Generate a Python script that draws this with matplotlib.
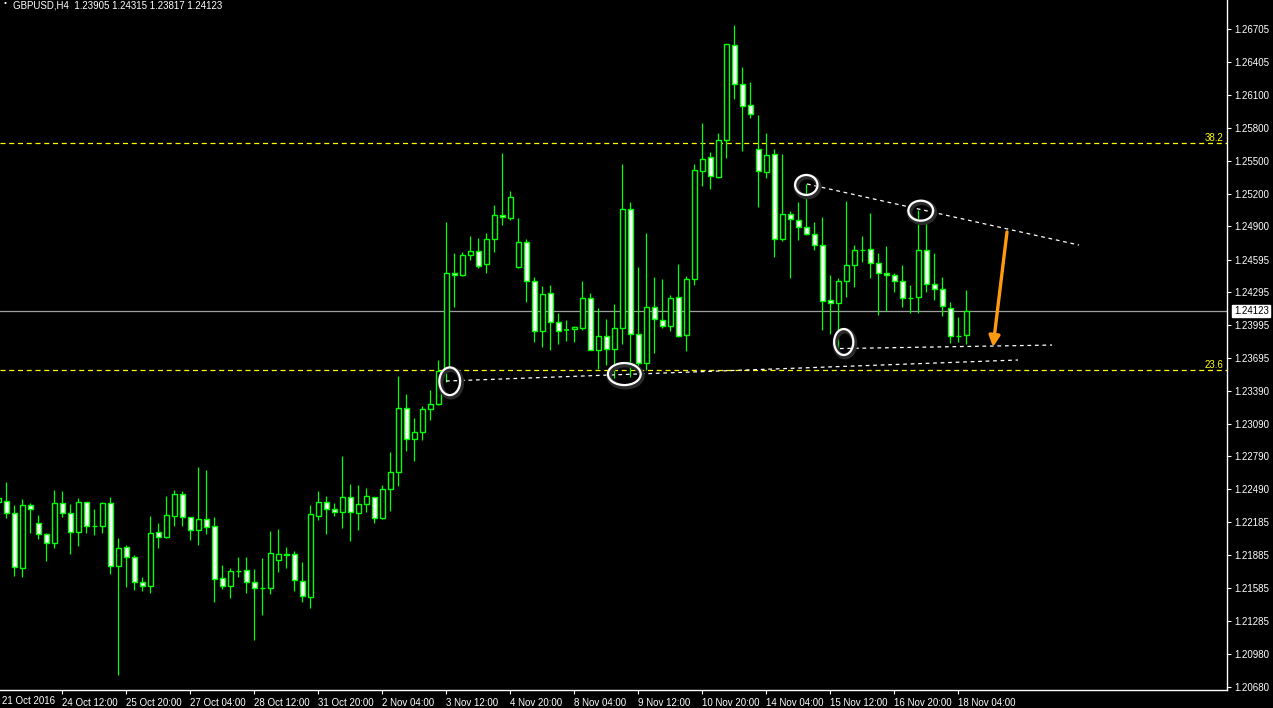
import matplotlib
matplotlib.use("Agg")
import matplotlib.pyplot as plt
from matplotlib.patches import Rectangle, Ellipse
from matplotlib.transforms import blended_transform_factory

plt.rcParams['font.family'] = ['Liberation Sans', 'DejaVu Sans']

# GBPUSD H4 candles, bar -1 is the one cut by the left edge
bar_index = list(range(-1, 121))

opens = [1.22372, 1.22381, 1.22268, 1.21764, 1.22341, 1.22176, 1.22075, 1.21993, 1.22360, 1.22268,
         1.22094, 1.22369, 1.22154, 1.22149, 1.22360, 1.21782, 1.21956, 1.21864, 1.21636, 1.21599,
         1.22094, 1.22053, 1.22246, 1.22445, 1.22231, 1.22112, 1.22213, 1.22149, 1.21672, 1.21599,
         1.21742, 1.21745, 1.21636, 1.21586, 1.21580, 1.21837, 1.21892, 1.21892, 1.21645, 1.21498,
         1.22246, 1.22369, 1.22305, 1.22283, 1.22415, 1.22274, 1.22357, 1.22415, 1.22228, 1.22488,
         1.22644, 1.23231, 1.22947, 1.23011, 1.23222, 1.23268, 1.23577, 1.24469, 1.24456, 1.24634,
         1.24671, 1.24551, 1.24786, 1.25001, 1.24976, 1.24524, 1.24753, 1.24396, 1.23942, 1.24286,
         1.24020, 1.23952, 1.23955, 1.23970, 1.24240, 1.23763, 1.23891, 1.23772, 1.23964, 1.25056,
         1.23909, 1.23644, 1.24157, 1.24038, 1.23988, 1.24249, 1.23900, 1.24414, 1.25410, 1.25533,
         1.25355, 1.25688, 1.26560, 1.26202, 1.26009, 1.25606, 1.25401, 1.25560, 1.24786, 1.25010,
         1.24960, 1.24891, 1.24826, 1.24726, 1.24221, 1.24194, 1.24396, 1.24542, 1.24683, 1.24689,
         1.24561, 1.24474, 1.24451, 1.24396, 1.24245, 1.24249, 1.24680, 1.24368, 1.24322, 1.24148,
         1.23894, 1.23905]
highs = [1.22427, 1.22555, 1.22344, 1.22399, 1.22360, 1.22253, 1.22087, 1.22482, 1.22473, 1.22353,
         1.22408, 1.22372, 1.22307, 1.22375, 1.22418, 1.22041, 1.21977, 1.21883, 1.21684, 1.22243,
         1.22176, 1.22427, 1.22482, 1.22473, 1.22234, 1.22693, 1.22665, 1.22234, 1.21794, 1.21766,
         1.21867, 1.21867, 1.21757, 1.21858, 1.22106, 1.22124, 1.21959, 1.21920, 1.21821, 1.22344,
         1.22473, 1.22424, 1.22363, 1.22793, 1.22537, 1.22528, 1.22500, 1.22418, 1.22528, 1.22830,
         1.23527, 1.23362, 1.23142, 1.23252, 1.23399, 1.23674, 1.24939, 1.24655, 1.24664, 1.24808,
         1.24790, 1.24836, 1.25095, 1.25572, 1.25224, 1.24973, 1.24783, 1.24438, 1.24355, 1.24362,
         1.24102, 1.24041, 1.23988, 1.24398, 1.24286, 1.24148, 1.24050, 1.24187, 1.25471, 1.25123,
         1.24527, 1.24838, 1.24435, 1.24417, 1.24270, 1.24551, 1.24444, 1.25471, 1.25847, 1.25581,
         1.25753, 1.26575, 1.26746, 1.26361, 1.26223, 1.25920, 1.25755, 1.25609, 1.25563, 1.25040,
         1.25123, 1.25285, 1.24939, 1.24985, 1.24451, 1.24423, 1.25132, 1.24728, 1.24811, 1.25022,
         1.24655, 1.24719, 1.24472, 1.24545, 1.24362, 1.25047, 1.24948, 1.24655, 1.24432, 1.24206,
         1.24068, 1.24315]
lows = [1.22353, 1.22228, 1.21696, 1.21687, 1.22090, 1.22032, 1.21833, 1.21952, 1.22237, 1.21897,
        1.21971, 1.22090, 1.22072, 1.22090, 1.21714, 1.20788, 1.21595, 1.21568, 1.21559, 1.21540,
        1.21952, 1.22044, 1.22154, 1.22154, 1.22026, 1.21980, 1.22081, 1.21457, 1.21577, 1.21494,
        1.21687, 1.21540, 1.21109, 1.21338, 1.21531, 1.21733, 1.21769, 1.21559, 1.21457, 1.21402,
        1.22209, 1.22081, 1.22246, 1.22136, 1.22014, 1.22115, 1.22283, 1.22182, 1.22213, 1.22292,
        1.22521, 1.22842, 1.22750, 1.22943, 1.23126, 1.23259, 1.23475, 1.24163, 1.24444, 1.24594,
        1.24520, 1.24474, 1.24667, 1.24909, 1.24960, 1.24520, 1.24208, 1.23842, 1.23796, 1.23766,
        1.23820, 1.23848, 1.23842, 1.23949, 1.23765, 1.23591, 1.23628, 1.23512, 1.23820, 1.23521,
        1.23582, 1.23582, 1.23741, 1.23970, 1.23942, 1.23885, 1.23756, 1.24362, 1.25272, 1.25245,
        1.25346, 1.25529, 1.26070, 1.25593, 1.25896, 1.25080, 1.25346, 1.24621, 1.24768, 1.24428,
        1.24777, 1.24820, 1.24685, 1.23952, 1.23915, 1.23777, 1.24249, 1.24346, 1.24575, 1.24423,
        1.24084, 1.24126, 1.24295, 1.24163, 1.24102, 1.24102, 1.24300, 1.24221, 1.24075, 1.23827,
        1.23836, 1.23817]
closes = [1.22408, 1.22268, 1.21773, 1.22341, 1.22305, 1.22075, 1.21993, 1.22360, 1.22268, 1.22094,
          1.22369, 1.22154, 1.22150, 1.22363, 1.21782, 1.21947, 1.21864, 1.21636, 1.21599, 1.22085,
          1.22048, 1.22250, 1.22445, 1.22231, 1.22112, 1.22213, 1.22140, 1.21663, 1.21599, 1.21736,
          1.21738, 1.21636, 1.21580, 1.21582, 1.21901, 1.21892, 1.21889, 1.21654, 1.21507, 1.22259,
          1.22369, 1.22305, 1.22283, 1.22415, 1.22283, 1.22351, 1.22424, 1.22228, 1.22488, 1.22644,
          1.23231, 1.22947, 1.23011, 1.23222, 1.23268, 1.23577, 1.24469, 1.24451, 1.24634, 1.24671,
          1.24539, 1.24781, 1.25001, 1.24982, 1.25166, 1.24753, 1.24396, 1.23942, 1.24276, 1.24020,
          1.23942, 1.23950, 1.23974, 1.24240, 1.23768, 1.23891, 1.23777, 1.23964, 1.25056, 1.23909,
          1.23644, 1.24157, 1.24047, 1.23988, 1.24240, 1.23891, 1.24414, 1.25413, 1.25514, 1.25358,
          1.25688, 1.26569, 1.26202, 1.26000, 1.25927, 1.25404, 1.25551, 1.24786, 1.25010, 1.24964,
          1.24891, 1.24826, 1.24726, 1.24212, 1.24194, 1.24396, 1.24542, 1.24680, 1.24680, 1.24561,
          1.24469, 1.24451, 1.24396, 1.24240, 1.24242, 1.24680, 1.24371, 1.24322, 1.24166, 1.23891,
          1.23891, 1.24123]

price_ticks = [1.26705, 1.26405, 1.26100, 1.25800, 1.25500, 1.25200, 1.24900, 1.24595, 1.24295,
               1.23995, 1.23695, 1.23390, 1.23090, 1.22790, 1.22490, 1.22185, 1.21885, 1.21585,
               1.21285, 1.20980, 1.20680]
time_tick_bars = [7, 15, 23, 31, 39, 47, 55, 63, 71, 79, 87, 95, 103, 111, 119]
time_tick_labels = ['24 Oct 12:00', '25 Oct 20:00', '27 Oct 04:00', '28 Oct 12:00', '31 Oct 20:00',
                    '2 Nov 04:00', '3 Nov 12:00', '4 Nov 20:00', '8 Nov 04:00', '9 Nov 12:00',
                    '10 Nov 20:00', '14 Nov 04:00', '15 Nov 12:00', '16 Nov 20:00', '18 Nov 04:00']

fib_levels = [1.25664, 1.23582]
fib_names = ['38.2', '23.6']
last_price = 1.24123

# hand drawn marks on the chart: (bar, price) pairs
trend_lines = [((54.96, 1.23481), (126.46, 1.23674)),
               ((100.09, 1.25288), (134.09, 1.24728)),
               ((104.21, 1.23779), (130.71, 1.23811))]
circles = [(55.43, 1.23479, 2.6, 0.00254), (77.25, 1.23545, 4.1, 0.00202),
           (100.0, 1.25279, 2.8, 0.00183), (114.31, 1.25043, 3.1, 0.00183),
           (104.68, 1.23839, 2.4, 0.00238)]
arrow_from = (125.09, 1.24848)
arrow_to = (123.34, 1.23793)

LIME = '#00FF00'

fig = plt.figure(figsize=(12.73, 7.08), dpi=100, facecolor='black')
ax = fig.add_axes([0, 18 / 708, 1227 / 1273, 690 / 708])
ax.set_facecolor('black')

for x, o, h, l, c in zip(bar_index, opens, highs, lows, closes):
    ax.vlines(x, l, h, color=LIME, lw=0.9, zorder=2)
    if abs(c - o) < 0.00002:
        ax.hlines(o, x - 0.3, x + 0.3, color=LIME, lw=1.2, zorder=3)
    else:
        face = 'white' if c < o else 'black'
        ax.add_patch(Rectangle((x - 0.28, min(o, c)), 0.56, abs(c - o), facecolor=face,
                               edgecolor=LIME, lw=1.0, zorder=3))

for lvl, name in zip(fib_levels, fib_names):
    ax.axhline(lvl, color='#FFFF00', lw=0.9, ls=(0, (4, 3)), zorder=1)
    ax.text(0.997, lvl, name, color='#FFFF00', fontsize=7, ha='right', va='bottom',
            transform=blended_transform_factory(ax.transAxes, ax.transData))

ax.axhline(last_price, color='#A0A0A0', lw=0.9, zorder=1)

for (x0, y0), (x1, y1) in trend_lines:
    ax.plot([x0, x1], [y0, y1], color='white', lw=0.9, ls=(0, (3, 3)), zorder=4)

for cx, cy, w, h in circles:
    ax.add_patch(Ellipse((cx + 0.15, cy - 0.00015), w, h, fill=False, edgecolor='#2a2a2a', lw=4, zorder=4))
    ax.add_patch(Ellipse((cx, cy), w, h, fill=False, edgecolor='white', lw=1.6, zorder=5))

ax.annotate('', xy=arrow_to, xytext=arrow_from,
            arrowprops=dict(arrowstyle='-|>', color='#FF9A10', lw=2.4, mutation_scale=16,
                            shrinkA=0, shrinkB=0), zorder=6)

ax.set_xlim(-0.7875, 152.59)
ax.set_ylim(1.20648, 1.26975)

for side in ['top', 'left']:
    ax.spines[side].set_visible(False)
for side in ['right', 'bottom']:
    ax.spines[side].set_color('white')
    ax.spines[side].set_linewidth(1)

ax.yaxis.tick_right()
ax.set_yticks(price_ticks)
ax.set_yticklabels([f'{p:.5f}' for p in price_ticks])
ax.set_xticks(time_tick_bars)
ax.set_xticklabels(time_tick_labels)
for lbl in ax.get_xticklabels():
    lbl.set_ha('left')
ax.tick_params(colors='white', labelcolor='white', labelsize=7, length=3, width=0.8, pad=2)
ax.tick_params(axis='x', pad=3)

ax.text(0.002, -0.008, '21 Oct 2016', color='white', fontsize=7, ha='left', va='top',
        transform=ax.transAxes)

ax.annotate(f'{last_price:.5f}', xy=(1.0, last_price), xycoords=('axes fraction', 'data'),
            xytext=(5, 0), textcoords='offset points', color='black', fontsize=7, va='center',
            bbox=dict(boxstyle='square,pad=0.15', facecolor='white', edgecolor='white'))

fig.text(4 / 1273, 1.0, '\u2022', color='white', fontsize=6, va='top')
fig.text(13 / 1273, 1.0, 'GBPUSD,H4  1.23905 1.24315 1.23817 1.24123',
         color='white', fontsize=7, va='top')

fig.savefig('out.png', dpi=100, facecolor='black')
